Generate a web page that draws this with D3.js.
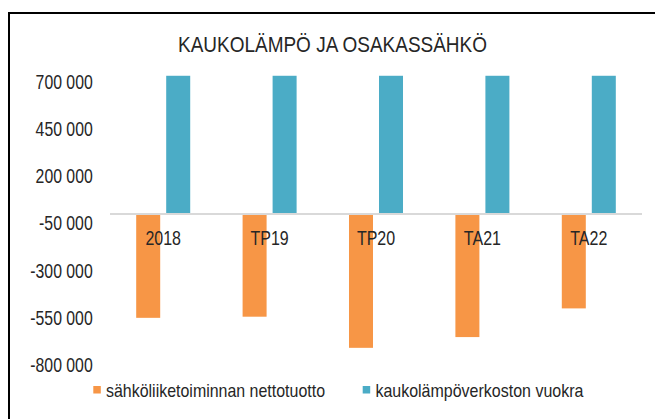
<!DOCTYPE html>
<html>
<head>
<meta charset="utf-8">
<script src="https://cdn.jsdelivr.net/npm/d3@7"></script>
<style>
  html, body { margin: 0; padding: 0; background: #fff; }
  svg { display: block; }
  text { font-family: "Liberation Sans", Arial, sans-serif; fill: #262626; }
</style>
</head>
<body>
<script>
const categories = ["2018", "TP19", "TP20", "TA21", "TA22"];
const seriesNames = ["sähköliiketoiminnan nettotuotto", "kaukolämpöverkoston vuokra"];
const electricity = [-550000, -544000, -709000, -652000, -500000];
const districtHeatRent = [733000, 733000, 733000, 733000, 733000];
const yTicks = [700000, 450000, 200000, -50000, -300000, -550000, -800000];
const titleText = "KAUKOLÄMPÖ JA OSAKASSÄHKÖ";
const colors = ["#F79646", "#4BACC6"];

const W = 655, H = 419;
const svg = d3.select("body").append("svg").attr("width", W).attr("height", H);

// condense text horizontally (narrow look)
function narrow(sel, factor) {
  sel.each(function () {
    const w = this.getComputedTextLength();
    d3.select(this).attr("textLength", w * factor).attr("lengthAdjust", "spacingAndGlyphs");
  });
}

// chart frame (cropped at right and bottom)
svg.append("rect").attr("x", 9).attr("y", 13).attr("width", W + 20).attr("height", H + 20)
  .attr("fill", "none").attr("stroke", "#000").attr("stroke-width", 2);

svg.append("text").attr("x", 332.5).attr("y", 51.5).attr("text-anchor", "middle")
  .style("font-size", "22px").attr("fill", "#404040").text(titleText)
  .attr("textLength", 309).attr("lengthAdjust", "spacingAndGlyphs");

const y = d3.scaleLinear().domain([-800000, 700000]).range([365, 82]);
const x = d3.scaleBand().domain(categories).range([110, 642]).paddingInner(0).paddingOuter(0);
const sub = d3.scaleBand().domain(seriesNames).range([0, x.bandwidth()]).paddingInner(0.2).paddingOuter(0.873);

const fmt = v => d3.format(",")(v).replace(/,/g, " ").replace(/\u2212/g, "-");

// y axis labels
const yAxis = d3.axisLeft(y).tickValues(yTicks).tickFormat(fmt).tickSize(0).tickPadding(0);
const ga = svg.append("g").attr("transform", "translate(92.7,0)").call(yAxis)
  .attr("font-family", null).attr("font-size", null);
ga.select(".domain").remove();
ga.selectAll("text").style("font-size", "20px").attr("fill", "#262626");
narrow(ga.selectAll("text"), 0.79);

const rows = categories.map((c, i) => ({ c, vals: [electricity[i], districtHeatRent[i]] }));

const g = svg.append("g");
rows.forEach(r => {
  r.vals.forEach((v, k) => {
    g.append("rect")
      .attr("x", x(r.c) + sub(seriesNames[k]))
      .attr("width", sub.bandwidth())
      .attr("y", Math.min(y(v), y(0)))
      .attr("height", Math.abs(y(v) - y(0)))
      .attr("fill", colors[k]);
  });
});

// baseline
svg.append("line").attr("x1", 110).attr("x2", 642).attr("y1", y(0)).attr("y2", y(0))
  .attr("stroke", "#d9d9d9").attr("stroke-width", 2);

// category labels at zero line
const xAxis = d3.axisBottom(x).tickSize(0).tickPadding(0);
const gx = svg.append("g").attr("transform", `translate(0,${y(0)})`).call(xAxis)
  .attr("font-family", null).attr("font-size", null);
gx.select(".domain").remove();
gx.selectAll("text").attr("dy", null).attr("y", 30.5).style("font-size", "20px").attr("fill", "#262626");
narrow(gx.selectAll("text"), 0.8);

// legend
const legX = [93.3, 362.7];
const legW = [219, 208];
seriesNames.forEach((n, k) => {
  svg.append("rect").attr("x", legX[k]).attr("y", 386).attr("width", 7.5).attr("height", 7.5).attr("fill", colors[k]);
  svg.append("text").attr("x", legX[k] + 12.7).attr("y", 396.5).style("font-size", "19px").text(n)
    .attr("textLength", legW[k]).attr("lengthAdjust", "spacingAndGlyphs");
});
</script>
</body>
</html>
